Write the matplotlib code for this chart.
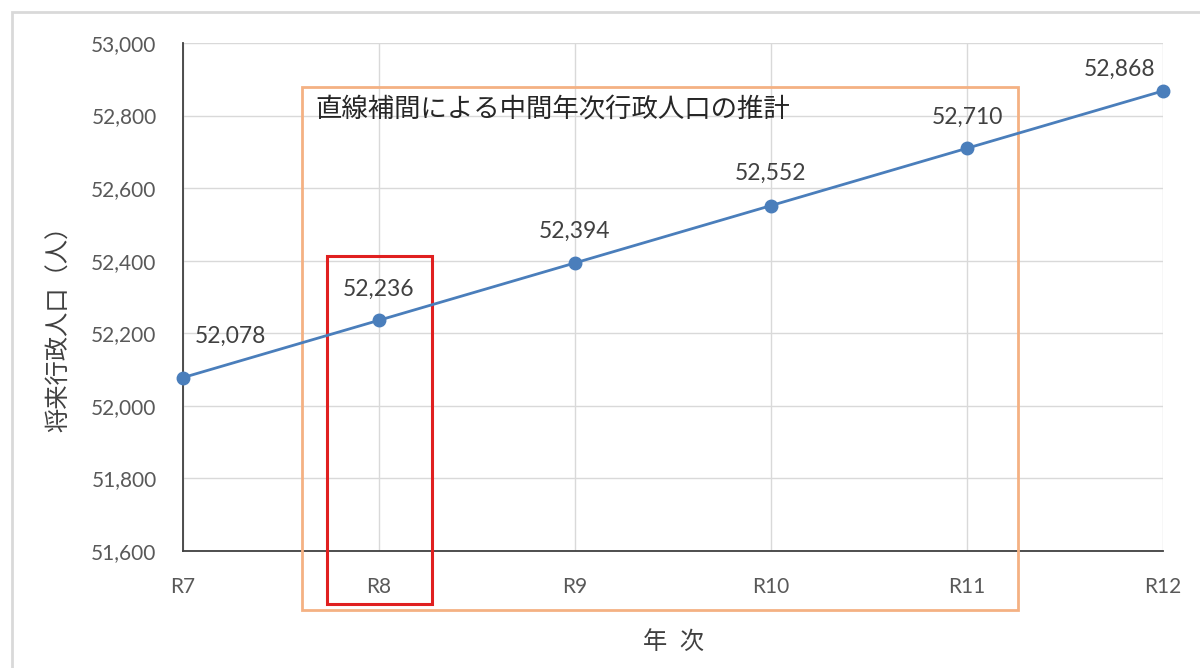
import matplotlib
matplotlib.use('Agg')
import matplotlib.pyplot as plt
from matplotlib.patches import Rectangle
from matplotlib.ticker import FuncFormatter

plt.rcParams['font.family'] = ['Lato', 'Noto Sans CJK JP', 'DejaVu Sans']

# data
years = ['R7', 'R8', 'R9', 'R10', 'R11', 'R12']
population = [52078, 52236, 52394, 52552, 52710, 52868]
y_ticks = [51600, 51800, 52000, 52200, 52400, 52600, 52800, 53000]

# label offsets in pixels (first / last shifted inward like Excel)
label_offsets = [(47, 41), (0, 31), (0, 32), (0, 32), (0, 31), (-43, 22)]

fig = plt.figure(figsize=(12, 6.68), dpi=100)
ax = fig.add_axes([0.1525, 0.1751, 0.8167, 0.7605])

x = list(range(len(years)))
ax.plot(x, population, color='#4a7ebb', lw=2, marker='o', ms=9, zorder=5, clip_on=False)

for xi, val, off in zip(x, population, label_offsets):
    ax.annotate(f'{val:,}', (xi, val), xytext=off, textcoords='offset pixels',
                ha='center', va='center', fontsize=16.5, color='#404040')

ax.set_xlim(0, len(years) - 1)
ax.set_ylim(y_ticks[0], y_ticks[-1])
ax.set_xticks(x)
ax.set_xticklabels(years)
ax.set_yticks(y_ticks)
ax.yaxis.set_major_formatter(FuncFormatter(lambda v, p: f'{int(v):,}'))
ax.tick_params(axis='x', length=0, pad=19, labelsize=15, labelcolor='#595959')
ax.tick_params(axis='y', length=0, pad=19, labelsize=15, labelcolor='#595959')

ax.grid(True, color='#d9d9d9', lw=1)
ax.set_axisbelow(True)
for s in ['top', 'right']:
    ax.spines[s].set_visible(False)
ax.spines['left'].set_color('#404040')
ax.spines['bottom'].set_color('#404040')
ax.spines['left'].set_linewidth(1.3)
ax.spines['bottom'].set_linewidth(1.3)

ax.set_ylabel('将来行政人口（人）', fontsize=17.5, color='#404040')
ax.yaxis.set_label_coords(-0.115, 0.45)
ax.set_xlabel('年  次', fontsize=17.5, color='#404040')
ax.xaxis.set_label_coords(0.5, -0.155)

# orange box around the interpolated years
ax.add_patch(Rectangle((0.121, -0.116), 0.731, 1.029, transform=ax.transAxes,
                       fill=False, ec='#f4b183', lw=2, clip_on=False, zorder=3))
ax.text(0.135, 0.868, '直線補間による中間年次行政人口の推計', transform=ax.transAxes,
        fontsize=19, color='#262626', ha='left', va='center')

# red box highlighting R8
ax.add_patch(Rectangle((0.147, -0.104), 0.107, 0.685, transform=ax.transAxes,
                       fill=False, ec='#e02020', lw=2.2, clip_on=False, zorder=4))

# outer chart border
fig.patches.append(Rectangle((12 / 1200, -0.05), 1.1, 1 - 12 / 668 + 0.05,
                             transform=fig.transFigure, fill=False,
                             ec='#d9d9d9', lw=2))

fig.savefig('out.png', dpi=100)
